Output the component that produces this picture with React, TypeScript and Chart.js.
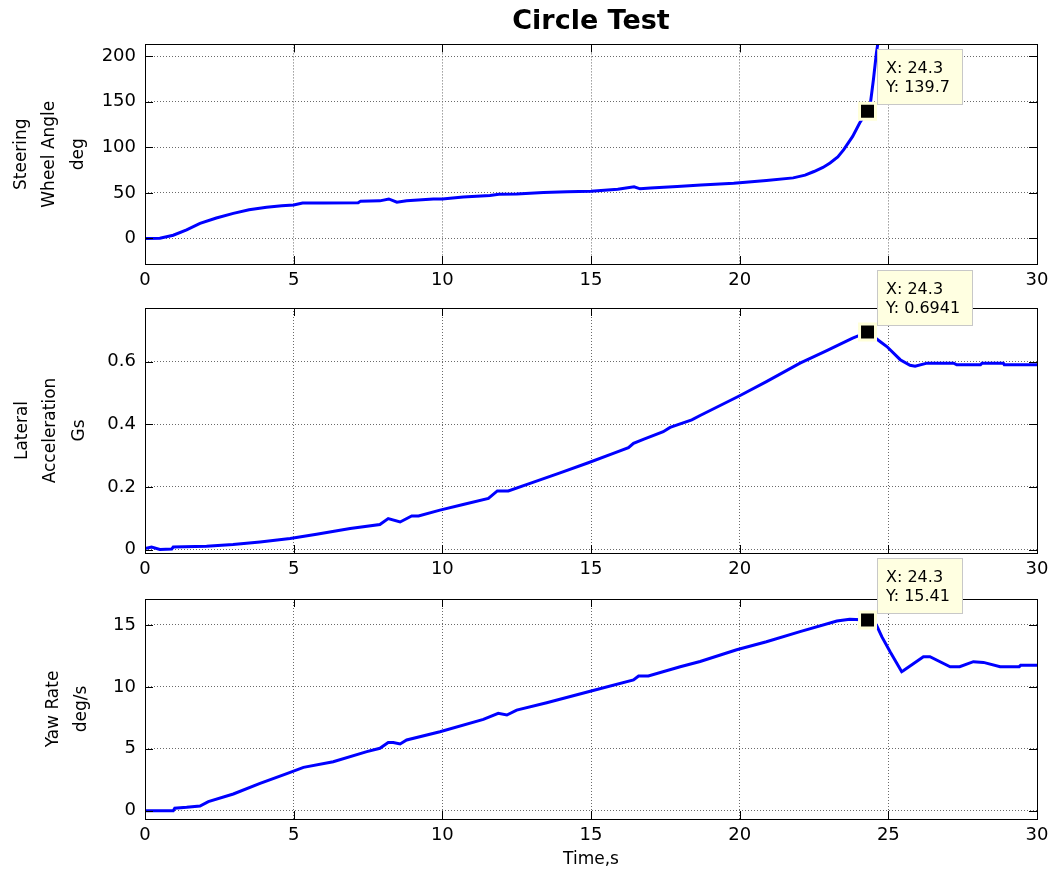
import React, { useEffect, useRef } from "react";
import { Chart, registerables } from "chart.js";

Chart.register(...registerables);

// ---------- data ----------
const X_TICKS = [0, 5, 10, 15, 20, 25, 30];
const SWA_TICKS = [0, 50, 100, 150, 200];
const LAT_TICKS = [0, 0.2, 0.4, 0.6];
const YAW_TICKS = [0, 5, 10, 15];

const TIME_SWA = [
  0, 0.5, 0.95, 1.4, 1.85, 2.4, 2.97, 3.5, 4.09, 4.6, 5.0, 5.3, 6.0, 7.17, 7.25, 7.9,
  8.2, 8.47, 8.8, 9.7, 10.0, 10.7, 11.6, 11.9, 12.5, 13.4, 14.2, 15.0, 15.9, 16.45,
  16.65, 17.0, 17.9, 18.7, 19.8, 20.9, 21.8, 22.2, 22.5, 22.8, 23.04, 23.3, 23.5, 23.8,
  24.04, 24.3, 24.4, 24.5, 24.6, 24.7, 24.85,
];
const SWA = [
  0, 0.3, 3.6, 9.5, 16.5, 22.5, 27.6, 31.5, 34.2, 35.8, 36.8, 39.0, 39.0, 39.2, 41.0, 41.3,
  43.4, 39.8, 41.5, 43.2, 43.4, 45.6, 47.2, 48.5, 48.9, 50.6, 51.4, 51.9, 54.0, 56.8,
  54.5, 55.5, 57.0, 58.8, 60.7, 63.6, 66.5, 69.5, 73.5, 78.0, 82.8, 89.5, 97.5, 112.0,
  127.0, 139.7, 149.0, 174.7, 204.0, 225.0, 250.0,
];

const TIME_LAT = [
  0, 0.22, 0.5, 0.9, 0.95, 2.07, 2.96, 3.87, 4.88, 5.77, 6.9, 7.9, 8.18, 8.58, 8.97, 9.2,
  9.92, 10.7, 11.55, 11.85, 12.22, 12.95, 13.96, 14.91, 15.75, 16.26, 16.43, 16.76, 17.43,
  17.66, 18.39, 18.67, 20.0, 20.9, 22.03, 22.93, 23.8, 24.3, 24.5, 24.72, 24.95, 25.4,
  25.73, 25.9, 26.3, 27.2, 27.3, 28.1, 28.15, 28.87, 28.9, 30,
];
const LAT_ACC = [
  0.003, 0.008, 0.0, 0.002, 0.008, 0.0106, 0.016, 0.024, 0.035, 0.049, 0.067, 0.08, 0.099,
  0.088, 0.107, 0.107, 0.126, 0.144, 0.163, 0.187, 0.187, 0.211, 0.245, 0.277, 0.307,
  0.325, 0.339, 0.352, 0.376, 0.39, 0.414, 0.428, 0.491, 0.536, 0.595, 0.635, 0.675,
  0.6941, 0.68, 0.664, 0.648, 0.606, 0.588, 0.585, 0.595, 0.595, 0.59, 0.59, 0.595, 0.595,
  0.59, 0.59,
];

const TIME_YAW = [
  0, 0.95, 1.0, 1.4, 1.85, 2.13, 2.97, 3.87, 4.77, 5.33, 6.33, 7.46, 7.9, 8.18, 8.35, 8.58,
  8.8, 9.92, 11.38, 11.88, 12.17, 12.5, 13.51, 14.91, 16.43, 16.6, 16.93, 18.0, 18.67,
  19.9, 20.9, 22.03, 23.27, 23.7, 24.3, 24.5, 24.6, 24.78, 25.06, 25.45, 25.5, 26.18,
  26.4, 27.08, 27.4, 27.86, 28.2, 28.76, 29.4, 29.45, 30,
];
const YAW_RATE = [
  0, 0, 0.2, 0.27, 0.38, 0.73, 1.35, 2.2, 3.0, 3.5, 3.96, 4.77, 5.04, 5.5, 5.5, 5.39,
  5.71, 6.38, 7.38, 7.87, 7.73, 8.13, 8.72, 9.61, 10.56, 10.88, 10.88, 11.63, 12.05,
  13.0, 13.65, 14.46, 15.32, 15.46, 15.41, 15.35, 15.0, 14.06, 12.84, 11.23, 11.3, 12.44,
  12.44, 11.63, 11.63, 12.04, 11.98, 11.63, 11.63, 11.74, 11.74,
];

const TIP_TIME = 24.3;
const TIP_SWA = 139.7;
const TIP_LAT = 0.6941;
const TIP_YAW = 15.41;
const TIP_TIME_LABEL = "24.3";
const TIP_SWA_LABEL = "139.7";
const TIP_LAT_LABEL = "0.6941";
const TIP_YAW_LABEL = "15.41";

const CHART_TITLE = "Circle Test";
const X_TITLE = "Time,s";
const SWA_TITLE = ["Steering", "Wheel Angle", "deg"];
const LAT_TITLE = ["Lateral", "Acceleration", "Gs"];
const YAW_TITLE = ["Yaw Rate", "deg/s"];

// ---------- styling ----------
const FONT = "'DejaVu Sans', 'Liberation Sans', Arial, sans-serif";
const GRID = "#6a6a6a";

const framePlugin = {
  id: "frame",
  afterDraw(chart: any, _args: any, opts: any) {
    const { ctx, chartArea: a, scales } = chart;
    const x = scales.x;
    const y = scales.y;
    ctx.save();
    ctx.strokeStyle = "#000";
    ctx.lineWidth = 1;
    const L = 8;
    ctx.beginPath();
    x.ticks.forEach((t: any) => {
      const px = Math.round(x.getPixelForValue(t.value)) + 0.5;
      ctx.moveTo(px, a.top);
      ctx.lineTo(px, a.top + L);
      ctx.moveTo(px, a.bottom);
      ctx.lineTo(px, a.bottom - L);
    });
    y.ticks.forEach((t: any) => {
      const py = Math.round(y.getPixelForValue(t.value)) + 0.5;
      ctx.moveTo(a.left, py);
      ctx.lineTo(a.left + L, py);
      ctx.moveTo(a.right, py);
      ctx.lineTo(a.right - L, py);
    });
    ctx.stroke();
    ctx.strokeRect(
      Math.round(a.left) + 0.5,
      Math.round(a.top) + 0.5,
      Math.round(a.right - a.left),
      Math.round(a.bottom - a.top)
    );
    // data tip box
    if (opts && opts.lines) {
      const px = x.getPixelForValue(opts.tx);
      const py = y.getPixelForValue(opts.ty);
      ctx.font = `16px ${FONT}`;
      const lines: string[] = opts.lines;
      const w = Math.round(Math.max(...lines.map((l) => ctx.measureText(l).width)) + 21);
      const h = 55;
      const bx = Math.round(px + 9) + 0.5;
      const by = Math.round(py - 7 - h) + 0.5;
      ctx.fillStyle = "#FFFFE1";
      ctx.fillRect(bx, by, w, h);
      ctx.strokeStyle = "#C8C8C8";
      ctx.strokeRect(bx, by, w, h);
      ctx.fillStyle = "#000";
      ctx.textAlign = "left";
      ctx.textBaseline = "middle";
      ctx.fillText(lines[0], bx + 8.5, by + 19);
      ctx.fillText(lines[1], bx + 8.5, by + 38);
    }
    ctx.restore();
  },
};

type PanelCfg = {
  top: number;
  height: number;
  padTop: number;
  axisH: number;
  times: number[];
  values: number[];
  yMin: number;
  yMax: number;
  yTicks: number[];
  yTitle: string[];
  yTitlePad: number;
  tipY: number;
  tipLabel: string;
  title?: string;
  xTitle?: string;
};

function PanelChart({ cfg }: { cfg: PanelCfg }) {
  const ref = useRef<HTMLCanvasElement | null>(null);
  useEffect(() => {
    if (!ref.current) return;
    const chart = new Chart(ref.current, {
      type: "line",
      data: {
        datasets: [
          {
            data: [{ x: TIP_TIME, y: cfg.tipY }],
            showLine: false,
            pointStyle: "rect",
            pointRadius: 11.3,
            pointBackgroundColor: "#000",
            pointBorderColor: "#FFFFD9",
            pointBorderWidth: 3,
            order: 0,
          } as any,
          {
            data: cfg.times.map((t, i) => ({ x: t, y: cfg.values[i] })),
            borderColor: "#0000FF",
            borderWidth: 3,
            pointRadius: 0,
            tension: 0,
            fill: false,
            order: 1,
          } as any,
        ],
      },
      options: {
        responsive: false,
        animation: false,
        devicePixelRatio: 1,
        events: [],
        layout: { padding: { left: 0, right: 19, top: cfg.title ? 0 : cfg.padTop, bottom: 0 } },
        plugins: {
          legend: { display: false },
          tooltip: { enabled: false },
          title: cfg.title
            ? {
                display: true,
                text: cfg.title,
                fullSize: false,
                color: "#000",
                font: { family: FONT, size: 27, weight: "bold", lineHeight: 1.2 },
                padding: { top: 6, bottom: 6 },
              }
            : { display: false },
          frame: { tx: TIP_TIME, ty: cfg.tipY, lines: [`X: ${TIP_TIME_LABEL}`, `Y: ${cfg.tipLabel}`] },
        } as any,
        scales: {
          x: {
            type: "linear",
            min: 0,
            max: 30,
            afterBuildTicks: (s: any) => {
              s.ticks = X_TICKS.map((v) => ({ value: v }));
            },
            afterFit: (s: any) => {
              s.height = cfg.axisH;
            },
            grid: { color: GRID, drawTicks: false, lineWidth: 1 },
            border: { display: false, dash: [1, 2] },
            ticks: {
              autoSkip: false,
              maxRotation: 0,
              padding: 6,
              color: "#000",
              font: { family: FONT, size: 18 },
              callback: (v: any) => String(v),
            },
            title: cfg.xTitle
              ? {
                  display: true,
                  text: cfg.xTitle,
                  color: "#000",
                  font: { family: FONT, size: 17, lineHeight: 1.2 },
                  padding: { top: 4, bottom: 5 },
                }
              : { display: false },
          },
          y: {
            type: "linear",
            min: cfg.yMin,
            max: cfg.yMax,
            afterBuildTicks: (s: any) => {
              s.ticks = cfg.yTicks.map((v) => ({ value: v }));
            },
            afterFit: (s: any) => {
              s.width = 145;
            },
            grid: { color: GRID, drawTicks: false, lineWidth: 1 },
            border: { display: false, dash: [1, 2] },
            ticks: {
              padding: 9,
              color: "#000",
              font: { family: FONT, size: 18 },
              callback: (v: any) => String(v),
            },
            title: {
              display: true,
              text: cfg.yTitle,
              color: "#000",
              font: { family: FONT, size: 17, lineHeight: 1.65 },
              padding: { top: cfg.yTitlePad, bottom: 0 },
            },
          },
        } as any,
      },
      plugins: [framePlugin as any],
    });
    return () => chart.destroy();
  }, [cfg]);
  return (
    <canvas
      ref={ref}
      width={1056}
      height={cfg.height}
      style={{ position: "absolute", left: 0, top: cfg.top, width: 1056, height: cfg.height, display: "block" }}
    />
  );
}

const PANELS: PanelCfg[] = [
  {
    top: 0,
    height: 300,
    padTop: 0,
    axisH: 36,
    times: TIME_SWA,
    values: SWA,
    yMin: -28,
    yMax: 213,
    yTicks: SWA_TICKS,
    yTitle: SWA_TITLE,
    yTitlePad: 8,
    tipY: TIP_SWA,
    tipLabel: TIP_SWA_LABEL,
    title: CHART_TITLE,
  },
  {
    top: 260,
    height: 330,
    padTop: 48,
    axisH: 37,
    times: TIME_LAT,
    values: LAT_ACC,
    yMin: -0.011,
    yMax: 0.771,
    yTicks: LAT_TICKS,
    yTitle: LAT_TITLE,
    yTitlePad: 9,
    tipY: TIP_LAT,
    tipLabel: TIP_LAT_LABEL,
  },
  {
    top: 545,
    height: 330,
    padTop: 54,
    axisH: 56,
    times: TIME_YAW,
    values: YAW_RATE,
    yMin: -0.67,
    yMax: 17.1,
    yTicks: YAW_TICKS,
    yTitle: YAW_TITLE,
    yTitlePad: 40,
    tipY: TIP_YAW,
    tipLabel: TIP_YAW_LABEL,
    xTitle: X_TITLE,
  },
];

export default function App() {
  return (
    <div
      style={{
        position: "absolute",
        left: 0,
        top: 0,
        width: 1056,
        height: 875,
        overflow: "hidden",
        background: "#fff",
      }}
    >
      {PANELS.map((p, i) => (
        <PanelChart key={i} cfg={p} />
      ))}
    </div>
  );
}
